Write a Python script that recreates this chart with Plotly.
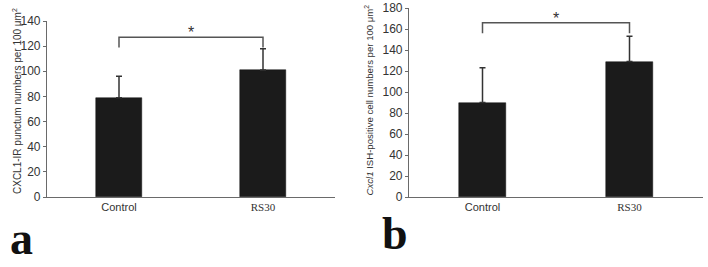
import plotly.graph_objects as go

categories = ["Control", "RS30"]
cxcl1_mean = [79, 101]
cxcl1_err = [17, 17]
ish_mean = [90, 129]
ish_err = [33, 24]
bracket_a = [119, 127]   # bracket end / top values (panel a)
bracket_b = [156, 166]   # panel b
ticks_a = [0, 20, 40, 60, 80, 100, 120, 140]
ticks_b = [0, 20, 40, 60, 80, 100, 120, 140, 160, 180]

W, H = 708, 267
def px(x): return x / W
def py(y): return (H - y) / H

BAR = "#1b1b1b"
AX = "#6a6a6a"
TXT = "#333333"
SANS = "Liberation Sans"
SERIF = "Liberation Serif"

fig = go.Figure()
for i, (mean, err, br) in enumerate([(cxcl1_mean, cxcl1_err, bracket_a), (ish_mean, ish_err, bracket_b)]):
    xa = "x" if i == 0 else "x2"
    ya = "y" if i == 0 else "y2"
    fig.add_trace(go.Bar(
        x=categories, y=mean, xaxis=xa, yaxis=ya, width=0.32,
        marker=dict(color=BAR, line=dict(color="#111", width=0.5)),
        error_y=dict(type="data", array=err, arrayminus=[0, 0], symmetric=False,
                     color="#333", thickness=1.5, width=3),
        showlegend=False, hoverinfo="skip"))
    fig.add_trace(go.Scatter(
        x=[categories[0], categories[0], categories[1], categories[1]],
        y=[br[0], br[1], br[1], br[0]], xaxis=xa, yaxis=ya, mode="lines",
        line=dict(color="#555", width=1.5), showlegend=False, hoverinfo="skip"))

ticktext = [categories[0], f'<span style="font-family:{SERIF}">{categories[1]}</span>']
common_x = dict(type="category", range=[-0.5, 1.5], showline=True, linecolor=AX, linewidth=1.2,
                ticks="", showgrid=False, zeroline=False, tickvals=categories, ticktext=ticktext,
                automargin=False, tickfont=dict(family=SANS, size=11, color=TXT))
common_y = dict(showline=True, linecolor=AX, linewidth=1.2, ticks="outside", ticklen=3,
                tickcolor=AX, showgrid=False, zeroline=False, automargin=False,
                ticklabeloverflow="allow",
                tickfont=dict(family=SANS, size=12, color=TXT))

fig.update_layout(
    width=W, height=H, margin=dict(l=0, r=0, t=0, b=0, autoexpand=False),
    paper_bgcolor="white", plot_bgcolor="white", bargap=0,
    xaxis=dict(domain=[px(47), px(335)], anchor="y", **common_x),
    yaxis=dict(domain=[py(197), py(21)], range=[0, 140], tickvals=ticks_a, anchor="x", **common_y),
    xaxis2=dict(domain=[px(409), px(703)], anchor="y2", **common_x),
    yaxis2=dict(domain=[py(197), py(8)], range=[0, 180], tickvals=ticks_b, anchor="x2", **common_y),
)

ann = []
ann.append(dict(x=0.5, y=bracket_a[1], xref="x", yref="y", text="*", showarrow=False,
                yanchor="bottom", yshift=-6, font=dict(family=SANS, size=16, color=TXT)))
ann.append(dict(x=0.5, y=bracket_b[1], xref="x2", yref="y2", text="*", showarrow=False,
                yanchor="bottom", yshift=-6, font=dict(family=SANS, size=16, color=TXT)))
ann.append(dict(x=px(9), y=py(196), xref="paper", yref="paper", textangle=-90, showarrow=False,
                yanchor="bottom",
                text="CXCL1-IR punctum numbers per 100 μm<sup>2</sup>",
                font=dict(family=SANS, size=10, color=TXT)))
ann.append(dict(x=px(368), y=py(198), xref="paper", yref="paper", textangle=-90, showarrow=False,
                yanchor="bottom",
                text="<i>Cxcl1</i> ISH-positive cell numbers per 100 μm<sup>2</sup>",
                font=dict(family=SANS, size=9.6, color=TXT)))
ann.append(dict(x=px(8), y=py(238), xref="paper", yref="paper", xanchor="left", yanchor="middle",
                text="<b>a</b>", showarrow=False, font=dict(family=SERIF, size=46, color="#111")))
ann.append(dict(x=px(380), y=py(233), xref="paper", yref="paper", xanchor="left", yanchor="middle",
                text="<b>b</b>", showarrow=False, font=dict(family=SERIF, size=46, color="#111")))
fig.update_layout(annotations=ann)

fig.write_html("out.html", config={"displayModeBar": False},
               post_script="document.body.style.margin='0';")
